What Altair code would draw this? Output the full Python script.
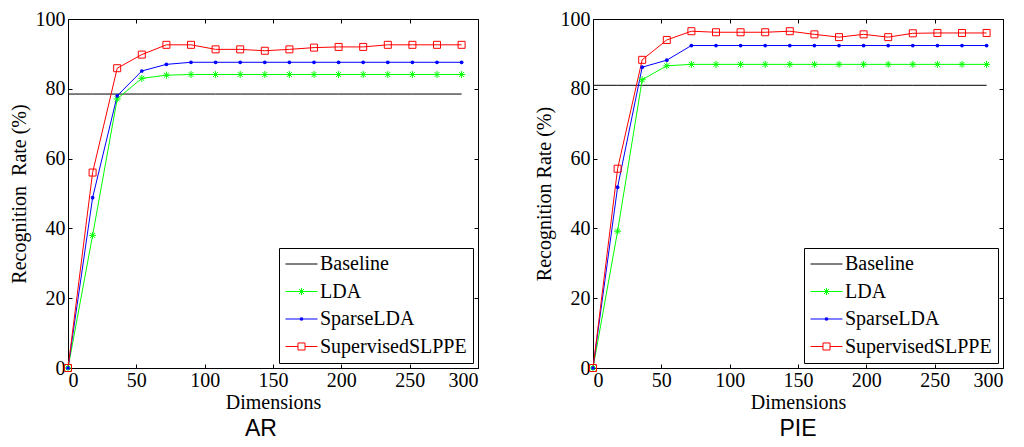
import altair as alt
import pandas as pd

DIMS = [0, 18, 36, 54, 72, 90, 108, 126, 144, 162, 180, 198, 216, 234, 252, 270, 288]
SERIES = ["Baseline", "LDA", "SparseLDA", "SupervisedSLPPE"]
COLORS = ["#000000", "#00ff00", "#0000ff", "#ff0000"]
XTICKS = [0, 50, 100, 150, 200, 250, 300]
YTICKS = [0, 20, 40, 60, 80, 100]

AR_BASELINE = [78.5, 78.5, 78.5, 78.5, 78.5, 78.5, 78.5, 78.5, 78.5, 78.5, 78.5, 78.5, 78.5, 78.5, 78.5, 78.5, 78.5]
AR_LDA = [0, 38.0, 77.1, 83.0, 83.9, 84.1, 84.1, 84.1, 84.1, 84.1, 84.1, 84.1, 84.1, 84.1, 84.1, 84.1, 84.1]
AR_SPARSE = [0, 48.8, 78.0, 85.1, 87.0, 87.6, 87.6, 87.6, 87.6, 87.6, 87.6, 87.6, 87.6, 87.6, 87.6, 87.6, 87.6]
AR_SLPPE = [0, 56.0, 85.9, 89.8, 92.6, 92.6, 91.3, 91.3, 90.9, 91.3, 91.8, 92.0, 92.0, 92.6, 92.6, 92.6, 92.6]

PIE_BASELINE = [81.0, 81.0, 81.0, 81.0, 81.0, 81.0, 81.0, 81.0, 81.0, 81.0, 81.0, 81.0, 81.0, 81.0, 81.0, 81.0, 81.0]
PIE_LDA = [0, 39.2, 82.6, 86.6, 87.0, 87.0, 87.0, 87.0, 87.0, 87.0, 87.0, 87.0, 87.0, 87.0, 87.0, 87.0, 87.0]
PIE_SPARSE = [0, 51.8, 86.2, 88.2, 92.4, 92.4, 92.4, 92.4, 92.4, 92.4, 92.4, 92.4, 92.4, 92.4, 92.4, 92.4, 92.4]
PIE_SLPPE = [0, 57.1, 88.3, 94.0, 96.5, 96.2, 96.2, 96.2, 96.5, 95.6, 94.8, 95.6, 94.8, 95.9, 96.0, 96.0, 96.0]

# marker shapes (unit paths)
MARK_STAR = "M-1,0H1M0,-1V1M-0.7,-0.7L0.7,0.7M-0.7,0.7L0.7,-0.7"
MARK_SQUARE = "M-1,-1H1V1H-1Z"
LEGEND_PATHS = [
    "M-1,0H1",
    "M-1,0H1M0,-0.22V0.22M-0.16,-0.16L0.16,0.16M-0.16,0.16L0.16,-0.16",
    "M-1,0H1M-0.07,-0.07H0.07V0.07H-0.07ZM-0.03,-0.03H0.03V0.03H-0.03Z",
    "M-1,0H-0.22M0.22,0H1M-0.22,-0.22H0.22V0.22H-0.22Z",
]

SERIF = "Liberation Serif"
W, H = 410, 349
TICK = 4


def make_df(values):
    rows = []
    for i, s in enumerate(SERIES):
        for d, v in zip(DIMS, values[i]):
            rows.append({"dim": d, "rate": v, "series": s, "order": i})
    return pd.DataFrame(rows)


def panel(df, ytitle, title, dx):
    xs = alt.Scale(domain=[0, 300], nice=False, zero=False)
    ys = alt.Scale(domain=[0, 100], nice=False)
    cs = alt.Scale(domain=SERIES, range=COLORS)
    common = dict(domain=False, ticks=False, grid=True, gridColor="black", gridOpacity=1, gridWidth=1,
                  labelFont=SERIF, labelFontSize=20, labelColor="black",
                  titleFont=SERIF, titleFontSize=20, titleFontWeight="normal", titleColor="black")
    xax = alt.Axis(values=XTICKS, title="Dimensions", orient="bottom", gridDash=[TICK, H - 2 * TICK, TICK],
                   labelPadding=2, titlePadding=2, format="d", **common)
    yax = alt.Axis(values=YTICKS, title=ytitle, orient="left", gridDash=[TICK, W - 2 * TICK, TICK],
                   labelPadding=3, titlePadding=6, format="d", **common)
    leg = alt.Legend(title=None, orient="bottom-right", offset=5, padding=6,
                     strokeColor="black", fillColor="white", cornerRadius=0,
                     labelFont=SERIF, labelFontSize=20, labelColor="black",
                     labelOffset=2, symbolSize=1024, symbolStrokeWidth=1, symbolOpacity=1,
                     clipHeight=20, rowPadding=7.5, labelLimit=300)
    X = alt.X("dim:Q", scale=xs, axis=xax)
    Y = alt.Y("rate:Q", scale=ys, axis=yax)
    C = alt.Color("series:N", scale=cs, legend=leg)
    base = alt.Chart(df)
    legend_layer = base.mark_point(
        filled=False, size=1, strokeWidth=1, opacity=0).encode(
        x=X, y=Y, color=C,
        shape=alt.Shape("series:N", scale=alt.Scale(domain=SERIES, range=LEGEND_PATHS), legend=leg))
    line = base.mark_line(strokeWidth=1).encode(
        x=X, y=Y, color=C, order=alt.Order("dim:Q"))
    pt_lda = base.transform_filter(alt.datum.series == "LDA").mark_point(
        shape=MARK_STAR, size=49, filled=False, strokeWidth=1, opacity=1).encode(
        x=X, y=Y, color=alt.value(COLORS[1]))
    pt_sparse = base.transform_filter(alt.datum.series == "SparseLDA").mark_point(
        shape="circle", size=14, filled=True, opacity=1).encode(
        x=X, y=Y, color=alt.value(COLORS[2]))
    pt_slppe = base.transform_filter(alt.datum.series == "SupervisedSLPPE").mark_point(
        shape=MARK_SQUARE, size=49, filled=False, strokeWidth=1, opacity=1).encode(
        x=X, y=Y, color=alt.value(COLORS[3]))
    return alt.layer(legend_layer, line, pt_lda, pt_sparse, pt_slppe).properties(
        width=W, height=H,
        title=alt.TitleParams(title, orient="bottom", font="Liberation Sans", fontSize=23,
                              fontWeight="normal", color="black", offset=6, dx=dx))


ar_df = make_df([AR_BASELINE, AR_LDA, AR_SPARSE, AR_SLPPE])
pie_df = make_df([PIE_BASELINE, PIE_LDA, PIE_SPARSE, PIE_SLPPE])

left = panel(ar_df, "Recognition\u00a0 Rate (%)", "AR", -12)
right = panel(pie_df, "Recognition Rate (%)", "PIE", 0)

chart = alt.hconcat(left, right, spacing=54).resolve_scale(
    color="independent", shape="independent").resolve_legend(
    color="independent", shape="independent").configure_view(
    stroke="black", strokeWidth=1).properties(
    padding={"left": 0, "top": 0, "right": 0, "bottom": 0})

chart.save("out.html", embed_options={"renderer": "svg", "actions": False})
